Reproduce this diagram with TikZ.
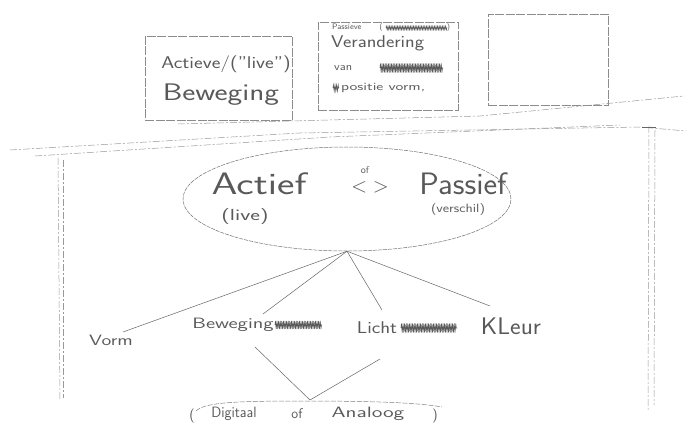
\documentclass[tikz,border=0pt]{standalone}
\usepackage{graphicx}
\usetikzlibrary{shapes.geometric,decorations.pathmorphing}
\newcommand\hw[2]{\scalebox{#1}[1]{#2}}
\begin{document}
\begin{tikzpicture}[x=1pt,y=-1pt,
  boxline/.style={draw=black!45, line width=0.5pt, dash pattern=on 9pt off 1.5pt, inner sep=0pt},
  ink/.style={draw=black!60, line width=0.5pt},
  faint/.style={draw=black!40, line width=0.5pt, dash pattern=on 7pt off 2pt on 2pt off 2pt},
  hand/.style={text=black!65, font=\sffamily, inner sep=1pt},
  scrib/.style={draw=black!65, line width=0.6pt, decorate, decoration={zigzag, amplitude=2.5pt, segment length=1.6pt}}]
\useasboundingbox[fill=white] (0,0) rectangle (689,425);

% --- three boxes on top
\node[boxline, minimum width=147pt, minimum height=84pt] (box1) at (218.5,78) {};
\node[boxline, minimum width=140pt, minimum height=88pt] (box2) at (388,66) {};
\node[boxline, minimum width=120pt, minimum height=91pt] (box3) at (548,59.5) {};

\node[hand, font=\sffamily\fontsize{17}{20}\selectfont] (t1a) at (226,64) {\hw{1.22}{Actieve/("live")}};
\node[hand, font=\sffamily\fontsize{24}{28}\selectfont] (t1b) at (221,95) {\hw{1.3}{Beweging}};

\node[hand, anchor=west, font=\sffamily\fontsize{8}{9}\selectfont] (t2a) at (331,28) {Passieve\hspace{18pt}(\hspace{64pt})};
\draw[scrib, decoration={amplitude=1.8pt}] (386,28) -- (447,28);
\node[hand, anchor=west, font=\sffamily\fontsize{17}{20}\selectfont] (t2b) at (330,43) {\hw{1.17}{Verandering}};
\node[hand, anchor=west, font=\sffamily\fontsize{11}{13}\selectfont] (t2c) at (333,68) {\hw{1.15}{van}};
\draw[scrib, decoration={amplitude=4.5pt}] (380,68) -- (443,68);
\draw[scrib, decoration={amplitude=3pt}] (333,88) -- (339,88);
\node[hand, anchor=west, font=\sffamily\fontsize{11}{13}\selectfont] (t2d) at (340,88) {\hw{1.45}{positie vorm,}};

% --- table top and legs
\draw[faint] (10,150) -- (300,133) -- (640,127) -- (686,131);
\draw[faint] (35,156) -- (330,137) -- (620,125);
\draw[faint] (178,124) -- (480,116) -- (684,96);
\draw[faint] (58,158) -- (60,400);
\draw[faint] (63,160) -- (63,398);
\draw[faint] (649,126) -- (648,410);
\draw[faint] (655,130) -- (654,405);
\draw[ink, line width=0.3pt] (642,127) -- (656,127);

% --- ellipse
\node[ellipse, draw=black!55, line width=0.5pt, dash pattern=on 4pt off 1pt,
      minimum width=328pt, minimum height=104pt] (pair) at (347,199) {};
\node[hand, font=\sffamily\fontsize{31}{36}\selectfont] (actief) at (259,184) {\hw{1.34}{Actief}};
\node[hand, font=\sffamily\fontsize{16}{19}\selectfont] (live) at (245,217) {\hw{1.45}{(live)}};
\node[hand, font=\sffamily\fontsize{10}{12}\selectfont] (of1) at (365,170) {of};
\node[hand, font=\fontsize{22}{26}\selectfont] (ltgt) at (370,187) {$<\;>$};
\node[hand, font=\sffamily\fontsize{31}{36}\selectfont] (passief) at (463,184) {\hw{1.05}{Passief}};
\node[hand, font=\sffamily\fontsize{12}{14}\selectfont] (verschil) at (458,210) {\hw{1.2}{(verschil)}};

% --- tree
\node[hand, font=\sffamily\fontsize{15}{18}\selectfont] (vorm) at (111,340) {\hw{1.33}{Vorm}};
\node[hand, font=\sffamily\fontsize{15}{18}\selectfont] (bew) at (233,325) {\hw{1.4}{Beweging}};
\draw[scrib, decoration={amplitude=4pt}] (275,325) -- (322,325);
\node[hand, font=\sffamily\fontsize{17}{20}\selectfont] (licht) at (377,328) {\hw{1.2}{Licht}};
\draw[scrib, decoration={amplitude=4.5pt}] (401,328) -- (457,328);
\node[hand, font=\sffamily\fontsize{24}{28}\selectfont] (kleur) at (511,326) {\hw{1.05}{KLeur}};

\coordinate (vormtop) at (123,332);
\coordinate (bewtop) at (263,314);
\coordinate (lichttop) at (382,310);
\coordinate (kleurtop) at (490,306);
\draw[ink] (pair.south) -- (vormtop);
\draw[ink] (pair.south) -- (bewtop);
\draw[ink] (pair.south) -- (lichttop);
\draw[ink] (pair.south) -- (kleurtop);

% --- bottom
\node[hand, font=\sffamily\fontsize{14}{16}\selectfont] (lp) at (192,416) {(};
\node[hand, font=\sffamily\fontsize{15}{17}\selectfont] (dig) at (234,414) {\hw{0.95}{Digitaal}};
\node[hand, font=\sffamily\fontsize{14}{16}\selectfont] (of2) at (297,414) {of};
\node[hand, font=\sffamily\fontsize{15}{17}\selectfont] (ana) at (368,414) {\hw{1.45}{Analoog}};
\node[hand, font=\sffamily\fontsize{14}{16}\selectfont] (rp) at (435,416) {)};
\coordinate (junc) at (310,400);
\coordinate (bewbot) at (255,347);
\coordinate (lichtbot) at (380,359);
\draw[ink] (junc) -- (bewbot);
\draw[ink] (junc) -- (lichtbot);
\draw[draw=black!50, line width=0.5pt, dash pattern=on 5pt off 1.5pt]
  (196,411) .. controls (204,403) and (230,401) .. (300,401) .. controls (380,401) and (420,403) .. (442,407);
\end{tikzpicture}
\end{document}
